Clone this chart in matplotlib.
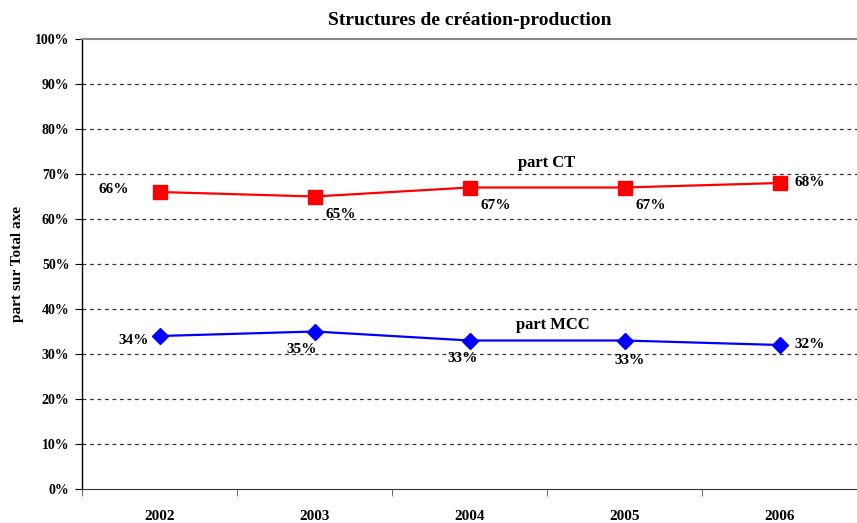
import numpy as np
import matplotlib.pyplot as plt
from matplotlib.ticker import FixedLocator, FuncFormatter

years = ["2002", "2003", "2004", "2005", "2006"]
part_ct = [66, 65, 67, 67, 68]
part_mcc = [34, 35, 33, 33, 32]

plt.rcParams['font.family'] = ['Liberation Serif', 'DejaVu Serif']
plt.rcParams['font.weight'] = 'bold'

fig = plt.figure(figsize=(8.57, 5.23), dpi=100)
ax = fig.add_axes([82/857, 1-489/523, 1-82/857, 450/523])

x = np.arange(len(years))
ax.plot(x, part_ct, color='#ff0000', lw=1.6, marker='s', ms=10, mec='#ff0000', mfc='#ff0000', zorder=3)
ax.plot(x, part_mcc, color='#0000ff', lw=1.6, marker='D', ms=8, mec='#0000ff', mfc='#0000ff', zorder=3)

ax.set_xlim(-0.5, 4.5)
ax.set_ylim(0, 100)
ax.set_yticks(np.arange(0, 101, 10))
ax.yaxis.set_major_formatter(FuncFormatter(lambda v, p: f"{int(v)}%"))
for v in range(10, 100, 10):
    ax.axhline(v, color='#333333', lw=0.9, ls=(0, (3, 3)), zorder=1)

ax.set_xticks(x)
ax.set_xticklabels(years)
ax.xaxis.set_minor_locator(FixedLocator(np.arange(-0.5, 5, 1)))
ax.tick_params(axis='x', which='major', length=0, pad=15, labelsize=11)
ax.tick_params(axis='x', which='minor', length=5, color='#555555')
ax.tick_params(axis='y', length=5, labelsize=10, pad=4)

ax.spines['right'].set_visible(False)
ax.spines['top'].set_color('#888888')
ax.spines['top'].set_linewidth(1.5)
ax.spines['left'].set_linewidth(1.0)
ax.spines['bottom'].set_color('#333333')

ax.set_ylabel("part sur Total axe", fontsize=11, fontweight='bold', labelpad=8)
ax.set_title("Structures de création-production", fontsize=14, fontweight='bold', pad=10)

fs = 11
ct_offsets = [(-22, 2, 'right', 'center'), (8, -8, 'left', 'top'), (8, -8, 'left', 'top'),
              (8, -8, 'left', 'top'), (11, 0, 'left', 'center')]
for i, v in enumerate(part_ct):
    dx, dy, ha, va = ct_offsets[i]
    ax.annotate(f"{v}%", (x[i], v), xytext=(dx, dy), textcoords='offset points',
                ha=ha, va=va, fontsize=fs)
mcc_offsets = [(-8, -3, 'right', 'center'), (-20, -8, 'left', 'top'), (-16, -8, 'left', 'top'),
               (-7, -10, 'left', 'top'), (11, 0, 'left', 'center')]
for i, v in enumerate(part_mcc):
    dx, dy, ha, va = mcc_offsets[i]
    ax.annotate(f"{v}%", (x[i], v), xytext=(dx, dy), textcoords='offset points',
                ha=ha, va=va, fontsize=fs)

ax.text(2.5, 72.4, "part CT", ha='center', va='center', fontsize=12)
ax.text(2.54, 36.4, "part MCC", ha='center', va='center', fontsize=12)

fig.savefig("out.png", dpi=100)
